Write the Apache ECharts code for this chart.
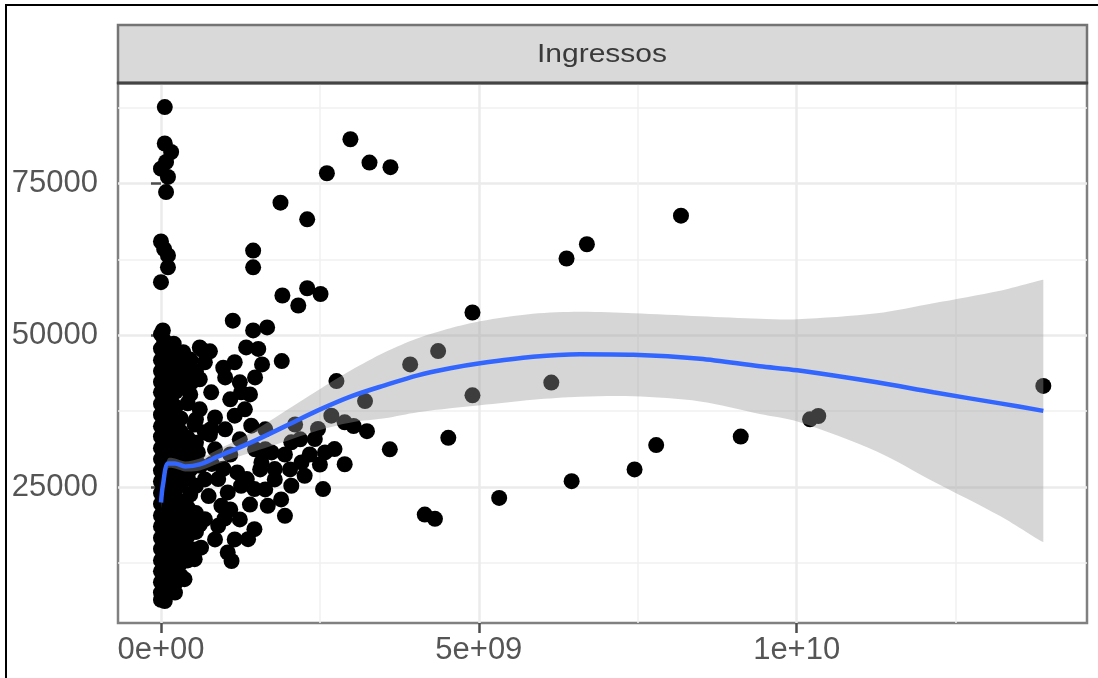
<!DOCTYPE html>
<html>
<head>
<meta charset="utf-8">
<script src="https://cdn.jsdelivr.net/npm/echarts@6/dist/echarts.min.js"></script>
<style>
html,body{margin:0;padding:0;background:#fff;}
#chart{width:1098px;height:678px;}
</style>
</head>
<body>
<div id="chart"></div>
<script>
// ---- data ----
const facetTitle = 'Ingressos';
const xMajorTicks = [0, 5e9, 1e10];
const xMajorLabels = ['0e+00', '5e+09', '1e+10'];
const xMinorTicks = [2.5e9, 7.5e9, 1.25e10];
const yMajorTicks = [25000, 50000, 75000];
const yMajorLabels = ['25000', '50000', '75000'];
const yMinorTicks = [12500, 37500, 62500, 87500];

// observed points [x, y]
const sparsePoints = [
  [8.18e9,69700],[6.70e9,65000],[6.38e9,62650],[4.90e9,53750],[4.36e9,47400],[3.92e9,45200],[6.14e9,42200],
  [4.90e9,40100],[4.52e9,33100],[7.79e9,31900],[9.12e9,33300],[7.45e9,27900],[6.46e9,25950],[5.32e9,23200],
  [4.15e9,20450],[4.31e9,19750],[10.21e9,36150],[10.34e9,36700],[13.88e9,41650],
  [2.98e9,82300],[3.28e9,78450],[3.61e9,77700],[2.61e9,76700],[1.88e9,71850],[2.30e9,69100],[1.45e9,63950],
  [1.45e9,61200],[2.30e9,57750],[2.51e9,56800],[1.91e9,56550],[2.16e9,54900],[1.13e9,52400],[1.45e9,50800],
  [1.67e9,51300],[1.34e9,48000],[1.53e9,47750],[0.66e9,47500],[1.90e9,45750],[0.98e9,44650],
  [3.60e9,31200],[3.24e9,34200],[3.03e9,35050],[2.76e9,42450],[3.21e9,39150],[2.89e9,28750],[2.55e9,24650],
  [2.42e9,32900],[2.58e9,30700],[2.73e9,31250],[2.47e9,34550],[2.68e9,36750],[2.89e9,35650],[2.05e9,32350],
  [2.21e9,29050],[2.26e9,26850],[2.05e9,25200],[1.89e9,22950],[1.58e9,29050],[1.74e9,30700],[1.79e9,27950],
  [1.68e9,21900],[1.95e9,20250],[1.47e9,18050],[1.37e9,16400],[1.05e9,14200],[1.11e9,12800],[1.26e9,25200],
  [1.47e9,24650],[0.90e9,26300],[1.05e9,24100],[0.95e9,21900],[0.69e9,19700],[0.90e9,18600],[0.37e9,16400],
  [0.53e9,13100],[0.37e9,9800],[0.22e9,7600],[0.06e9,6200],
  [0.69e9,45550],[0.48e9,42250],[0.27e9,44450],[1.16e9,45550],[0.79e9,40600],[1.16e9,36750],[1.42e9,35100],
  [0.79e9,34550],[1.26e9,40600],[0.37e9,31800],[0.58e9,30700],[0.69e9,34000]
];
const columnTopPoints = [
  [0.06e9,87600],[0.06e9,81600],[0.16e9,80200],[0,77450],[0.11e9,76100],[0.08e9,73600],[0.08e9,78550],
  [0,65450],[0.05e9,64200],[0.11e9,63150],[0.11e9,61200],[0,58750],[0.03e9,50800],[0.08e9,48300]
];
const clusterPoints = [
  [0.46e9,46000],[0.61e9,48000],[0.77e9,47350],[0.38e9,43550],[0.61e9,42750],[1.01e9,43050],[1.24e9,42250],
  [1.48e9,43050],[1.59e9,45200],[1.40e9,40250],[1.32e9,37800],[1.09e9,39450],[0.85e9,36450],[0.61e9,37800],
  [0.46e9,40250],[0.30e9,41900],[0.53e9,35300],[0.77e9,33650],[1.01e9,34500],[1.24e9,32850],[1.48e9,31200],
  [1.09e9,30350],[0.85e9,31200],[1.64e9,34500],
  [0.46e9,27900],[0.69e9,26250],[0.22e9,24600],[0.46e9,23750],[0.30e9,20450],[0.61e9,18800],[0.22e9,18000],
  [0.38e9,13850],[0.22e9,11400],[1.09e9,21300],[1.24e9,19650],[1.16e9,16350],[0.85e9,16350],[1.40e9,22100],
  [1.64e9,24600],[1.79e9,26250],[1.56e9,27900],[2.03e9,27900],[1.95e9,30350],[2.19e9,32850],[2.34e9,30350],
  [1.64e9,31200],[2.11e9,35300],[2.50e9,28700],
  [0.75e9,23500],[0.62e9,28500],[0.80e9,28800],[0.98e9,28000],[1.20e9,27400],[1.35e9,26300],[1.00e9,19800],
  [0.63e9,15000],[0.20e9,48600],[0.35e9,47200],[0.50e9,44300]
];
const col0Y = [50200,47800,45900,44100,42300,40600,38700,36900,35000,33300,31400,29600,27700,25900,24000,22200,20300,18500,16600,14800,12900,11100,9300,7600,6400];
const col1Y = [49100,46800,43200,41400,39500,37700,35800,34100,32200,30400,28500,26800,24900,23100,21200,19400,17600,15700,13900,12000,10200,8400];
const col2Y = [47300,45000,42800,40100,38200,36300,33600,31900,29900,27200,25400,23600,21700,19800,17100,15300,13400,11600,9700,7900];
const col3Y = [46500,44300,41700,39000,37300,34700,32700,30700,28300,26300,24200,22500,20700,18700,16200,14300,12400,10600,8800];
const col4Y = [45600,43300,40700,38200,35700,33500,31100,29100,26900,24800,23200,21400,19200,17300,15200,13300,11200,9200];
const col5Y = [43700,36300,34100,29900,27100,25300,22600,20800,18900,17100,14600,12500,10400];
const col6Y = [45100,38800,33100,30200,28600,26600,21600,19200,16900,15100,12900];
const col7Y = [44000,36100,32300,29400,25200,20700,17600,14700];
const columnX = [0, 0.05e9, 0.1e9, 0.16e9, 0.23e9, 0.31e9, 0.42e9, 0.55e9];

// loess smooth (fit and confidence band)
const smoothX = [0,0.03e9,0.11e9,0.22e9,0.38e9,0.61e9,0.90e9,1.42e9,1.95e9,2.47e9,2.99e9,3.52e9,4.04e9,4.55e9,5.02e9,5.85e9,6.59e9,7.43e9,8.48e9,9.42e9,10.01e9,11.26e9,12.15e9,13.20e9,13.88e9];
const smoothFit = [22450,25250,28880,28880,28385,28715,30035,32345,34985,37625,39935,41750,43400,44555,45380,46450,46865,46780,46120,44885,44225,42245,40595,38780,37540];
const smoothLower = [21460,24260,28055,28055,27560,27725,28880,30695,32510,34325,35645,36305,37295,37955,38450,39355,39850,39930,39105,37045,35810,30860,25910,20215,15925];
const smoothUpper = [23440,26240,29705,29705,29210,29705,31190,33995,37460,40925,44225,47195,49505,51155,52310,53545,53880,53630,53135,52725,52640,53630,55280,57345,59155];

// ---- build ----
const colYs = [col0Y,col1Y,col2Y,col3Y,col4Y,col5Y,col6Y,col7Y];
const columnPoints = [];
colYs.forEach((ys, i) => ys.forEach(y => columnPoints.push([columnX[i], y])));
const allPoints = sparsePoints.concat(columnTopPoints, clusterPoints, columnPoints);
const fitData = smoothX.map((x, i) => [x, smoothFit[i]]);

const GRID = {left: 118, top: 83, width: 969, height: 540};
const chart = echarts.init(document.getElementById('chart'), null, {renderer: 'canvas'});
const labelFont = 'Liberation Sans';
const xMin = -0.676e9, xMax = 14.567e9, yMin = 2585, yMax = 91570;

chart.setOption({
  animation: false,
  backgroundColor: '#ffffff',
  grid: Object.assign({show: true, borderColor: '#808080', borderWidth: 2.5, backgroundColor: '#fff', outerBoundsMode: 'none', containLabel: false}, GRID),
  xAxis: [{
    type: 'value', min: xMin, max: xMax, position: 'bottom',
    axisLine: {show: false},
    axisTick: {show: true, length: 10, customValues: xMajorTicks, lineStyle: {color: '#4d4d4d', width: 2.5}},
    axisLabel: {show: true, customValues: xMajorTicks, margin: 12, color: '#555', fontSize: 31, fontFamily: labelFont,
      formatter: v => xMajorLabels[xMajorTicks.indexOf(v)]},
    splitLine: {show: true, lineStyle: {color: '#ebebeb', width: 2.5}}
  }, {
    type: 'value', min: xMin, max: xMax, position: 'top',
    axisLine: {show: false}, axisLabel: {show: false},
    axisTick: {show: false, customValues: xMinorTicks},
    splitLine: {show: true, lineStyle: {color: '#f1f1f1', width: 1.5}}
  }],
  yAxis: [{
    type: 'value', min: yMin, max: yMax, position: 'left',
    axisLine: {show: false},
    axisTick: {show: true, length: 10, customValues: yMajorTicks, lineStyle: {color: '#4d4d4d', width: 2.5}},
    axisLabel: {show: true, customValues: yMajorTicks, margin: 20, color: '#555', fontSize: 31, fontFamily: labelFont,
      formatter: v => yMajorLabels[yMajorTicks.indexOf(v)]},
    splitLine: {show: true, lineStyle: {color: '#ebebeb', width: 2.5}}
  }, {
    type: 'value', min: yMin, max: yMax, position: 'right',
    axisLine: {show: false}, axisLabel: {show: false},
    axisTick: {show: false, customValues: yMinorTicks},
    splitLine: {show: true, lineStyle: {color: '#f1f1f1', width: 1.5}}
  }],
  series: [{
    type: 'scatter', data: allPoints, symbolSize: 16, z: 2,
    itemStyle: {color: '#000', opacity: 1}, emphasis: {disabled: true}
  }, {
    type: 'custom', z: 3, silent: true, data: [[smoothX[0], smoothFit[0]]],
    renderItem: function (params, api) {
      const up = smoothX.map((x, i) => api.coord([x, smoothUpper[i]]));
      const lo = smoothX.map((x, i) => api.coord([x, smoothLower[i]])).reverse();
      return {type: 'group', children: [
        {type: 'polygon',
         shape: {points: up.concat(lo), smooth: 0.3, smoothConstraint: [[Infinity, Infinity], [-Infinity, -Infinity]]},
         style: {fill: 'rgba(153,153,153,0.4)', stroke: null}}
      ]};
    }
  }, {
    type: 'line', data: fitData, symbol: 'none', smooth: 0.3, z: 4,
    lineStyle: {color: '#3366FF', width: 4.5}, silent: true
  }],
  graphic: [{
    type: 'rect', z: 100, silent: true,
    shape: {x: 6, y: 5, width: 1300, height: 900},
    style: {fill: 'none', stroke: '#000', lineWidth: 2}
  }, {
    type: 'rect', z: 10, silent: true,
    shape: {x: 118, y: 25, width: 969, height: 58},
    style: {fill: '#d9d9d9', stroke: '#747474', lineWidth: 2.5}
  }, {
    type: 'line', z: 11, silent: true,
    shape: {x1: 117, y1: 83, x2: 1088, y2: 83},
    style: {stroke: '#444', lineWidth: 3}
  }, {
    type: 'text', z: 12, silent: true,
    x: 602, y: 55, scaleX: 1.2,
    style: {text: facetTitle, fill: '#3a3a3a', font: '25px "Liberation Sans"', align: 'center', verticalAlign: 'middle'}
  }]
});
</script>
</body>
</html>
